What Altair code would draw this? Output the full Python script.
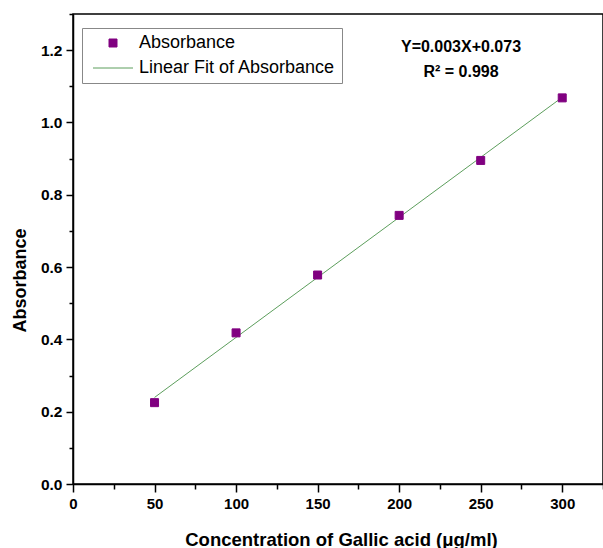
import altair as alt
import pandas as pd

# ---- data ----
conc = [50, 100, 150, 200, 250, 300]
absorb = [0.225, 0.418, 0.578, 0.743, 0.895, 1.068]
series_names = ["Absorbance", "Linear Fit of Absorbance"]
equation_lines = ["Y=0.003X+0.073", "R\u00b2 = 0.998"]
x_ticks = [0, 25, 50, 75, 100, 125, 150, 175, 200, 225, 250, 275, 300, 325]
y_ticks = [0.0, 0.1, 0.2, 0.3, 0.4, 0.5, 0.6, 0.7, 0.8, 0.9, 1.0, 1.1, 1.2, 1.3]

df = pd.DataFrame({"conc": conc, "abs": absorb, "series": [series_names[0]] * len(conc)})

FONT = "Liberation Sans, Arial, sans-serif"
PURPLE = "#800080"
GREEN = "#5c9e5c"

x_scale = alt.Scale(domain=[0, 325], nice=False, zero=False)
y_scale = alt.Scale(domain=[0, 1.3], nice=False)

x_axis = alt.Axis(
    values=x_ticks,
    title="Concentration of Gallic acid (\u03bcg/ml)",
    labelExpr="datum.value % 50 == 0 ? datum.label : ''",
    tickSize={"condition": {"test": "datum.value % 50 == 0", "value": 8}, "value": 5},
    grid=False, domainColor="black", domainWidth=1.5, tickColor="black", tickWidth=1.5,
    labelFont=FONT, labelFontSize=15, labelFontWeight="bold", labelColor="black",
    labelPadding=4, labelFlush=False, labelOverlap=False,
    titleFont=FONT, titleFontSize=18.5, titleFontWeight="bold", titleColor="black",
    titleX=268, titleY=61, titleBaseline="alphabetic", titleAlign="center",
)
y_axis = alt.Axis(
    values=y_ticks,
    title="Absorbance",
    format=".1f",
    labelExpr="round(datum.value * 10) % 2 == 0 ? datum.label : ''",
    tickSize={"condition": {"test": "round(datum.value * 10) % 2 == 0", "value": 7}, "value": 4},
    grid=False, domainColor="black", domainWidth=1.5, tickColor="black", tickWidth=1.5,
    labelFont=FONT, labelFontSize=15.5, labelFontWeight="bold", labelColor="black",
    labelPadding=4, labelFlush=False, labelOverlap=False,
    titleFont=FONT, titleFontSize=18, titleFontWeight="bold", titleColor="black",
    titleAngle=270, titleX=-48, titleY=266, titleBaseline="alphabetic", titleAlign="center",
)

X = alt.X("conc:Q", scale=x_scale, axis=x_axis)
Y = alt.Y("abs:Q", scale=y_scale, axis=y_axis)

legend = alt.Legend(
    title=None, orient="none", legendX=9, legendY=14, direction="vertical",
    labelFont=FONT, labelFontSize=18, labelColor="black", labelLimit=0,
    strokeColor="#888888", fillColor="white", padding=6,
    symbolSize=64, symbolStrokeWidth=1, symbolOffset=16, labelOffset=17, rowPadding=7,
)

points = alt.Chart(df).mark_point(filled=True, size=64, strokeWidth=1, opacity=1).encode(
    x=X,
    y=Y,
    color=alt.Color("series:N", scale=alt.Scale(domain=series_names, range=[PURPLE, GREEN]), legend=legend),
    stroke=alt.Stroke("series:N", scale=alt.Scale(domain=series_names, range=[PURPLE, GREEN]), legend=legend),
    shape=alt.Shape("series:N", scale=alt.Scale(domain=series_names, range=["square", "M-5,0H5"]), legend=legend),
)

fit = alt.Chart(df).transform_regression("conc", "abs", extent=[50, 300]).mark_line(
    color=GREEN, strokeWidth=1
).encode(x=X, y=Y)

eq = alt.Chart(pd.DataFrame({"t": ["\n".join(equation_lines)]})).mark_text(
    font=FONT, fontSize=16, fontWeight="bold", color="black",
    align="center", baseline="top", lineBreak="\n", lineHeight=25,
).encode(x=alt.value(388), y=alt.value(25), text="t:N")

chart = alt.layer(fit, points, eq).properties(
    width=530, height=470,
    autosize=alt.AutoSizeParams(type="none"),
    padding={"left": 73, "top": 14, "right": 0, "bottom": 64},
    background="white",
).configure_view(stroke="black", strokeWidth=1.5)

chart.save("out.html", embed_options={"renderer": "svg", "actions": False})
